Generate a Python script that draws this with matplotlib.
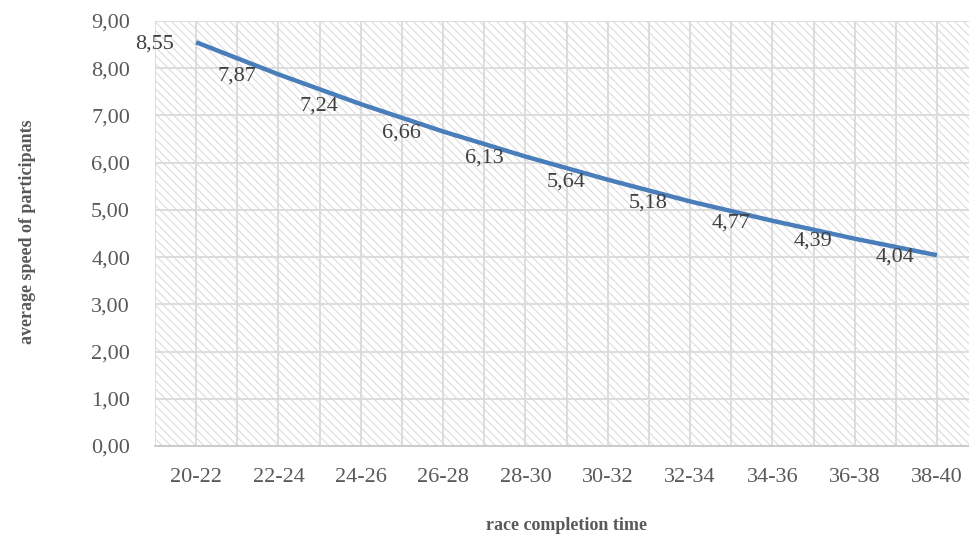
import matplotlib
matplotlib.use("Agg")
import matplotlib.pyplot as plt
from matplotlib.ticker import MultipleLocator, FuncFormatter

# race completion time bins and the average speed in each
categories = ["20-22", "22-24", "24-26", "26-28", "28-30",
              "30-32", "32-34", "34-36", "36-38", "38-40"]
speeds = [8.55, 7.87, 7.24, 6.66, 6.13, 5.64, 5.18, 4.77, 4.39, 4.04]
y_ticks = [0, 1, 2, 3, 4, 5, 6, 7, 8, 9]

plt.rcParams["font.family"] = ["Liberation Serif", "DejaVu Serif"]
plt.rcParams["hatch.color"] = "#dcdcdc"
plt.rcParams["hatch.linewidth"] = 0.8

text_color = "#595959"
grid_color = "#dadada"
line_color = "#4a7ebb"


def comma(v, pos=None):
    return f"{v:.2f}".replace(".", ",")


fig = plt.figure(figsize=(9.69, 5.41), dpi=100)
ax = fig.add_axes([155 / 969, 1 - 446 / 541, 1 - 155 / 969, (446 - 21) / 541])

# hatched plot area
ax.set_facecolor("white")
ax.patch.set_hatch("\\\\\\\\")
ax.patch.set_edgecolor("#dcdcdc")
ax.patch.set_linewidth(0)

x = list(range(len(categories)))
ax.plot(x, speeds, color=line_color, linewidth=3.2,
        solid_capstyle="butt", solid_joinstyle="round", zorder=3)

for xi, v in zip(x, speeds):
    ax.annotate(comma(v), (xi, v), xytext=(-22, -2), textcoords="offset pixels",
                ha="right", va="center", fontsize=16, color="#404040", zorder=4)

ax.set_xlim(-0.5, (969 - 196) / 82.33)
ax.set_ylim(0, 9)
ax.set_yticks(y_ticks)
ax.yaxis.set_major_formatter(FuncFormatter(comma))
ax.set_xticks(x)
ax.set_xticklabels(categories)
ax.xaxis.set_minor_locator(MultipleLocator(0.5))

ax.grid(True, which="major", axis="y", color=grid_color, linewidth=1.3, zorder=1)
ax.grid(True, which="both", axis="x", color=grid_color, linewidth=1.3, zorder=1)
ax.set_axisbelow(True)

for side in ["top", "right", "left"]:
    ax.spines[side].set_visible(False)
ax.spines["bottom"].set_color("#c8c8c8")
ax.spines["bottom"].set_linewidth(1.3)

ax.tick_params(axis="both", which="both", length=0, labelsize=16,
               labelcolor=text_color)
ax.tick_params(axis="x", pad=16)
ax.tick_params(axis="y", pad=18)

fig.text(28 / 969, 1 - 232 / 541, "average speed of participants",
         rotation=90, ha="center", va="center", fontsize=13,
         fontweight="bold", color=text_color)
fig.text(566 / 969, 1 - 526 / 541, "race completion time",
         ha="center", va="center", fontsize=13,
         fontweight="bold", color=text_color)

fig.savefig("out.png", dpi=100)
